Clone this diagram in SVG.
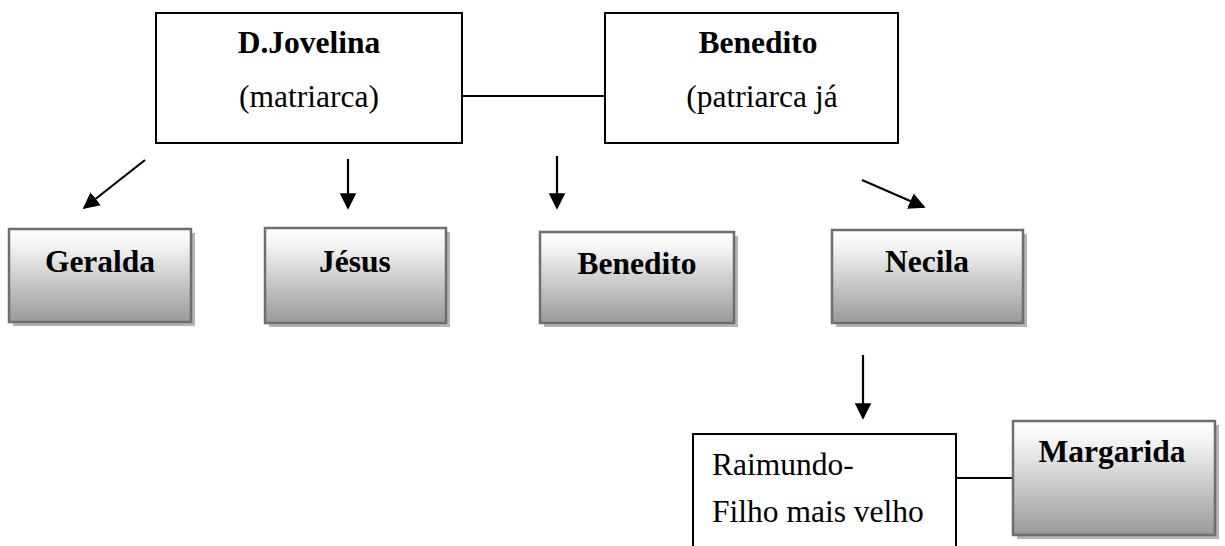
<svg xmlns="http://www.w3.org/2000/svg" width="1225" height="546" viewBox="0 0 1225 546">
<style>
.plain{fill:#fff;stroke:#000;stroke-width:2}
.shade{fill:url(#g);stroke:#6e6e6e;stroke-width:2.5}
.shadow{fill:#b4b4b4}
.b{font-family:"Liberation Serif",serif;font-weight:bold;font-size:31.5px;fill:#000;text-anchor:middle}
.r{font-family:"Liberation Serif",serif;font-size:31.5px;fill:#000;text-anchor:middle}
.rl{font-family:"Liberation Serif",serif;font-size:31.5px;fill:#000}
.ln{stroke:#000;stroke-width:2;fill:none}
.ar{stroke:#000;stroke-width:2.2;fill:none;marker-end:url(#ah)}
</style>
<defs>
<linearGradient id="g" x1="0" y1="0" x2="0" y2="1">
<stop offset="0" stop-color="#ffffff"/>
<stop offset="0.2" stop-color="#f2f2f2"/>
<stop offset="1" stop-color="#999999"/>
</linearGradient>
<marker id="ah" viewBox="0 0 10 10" refX="9" refY="5" markerWidth="7.5" markerHeight="7.5" markerUnits="strokeWidth" orient="auto">
<path d="M0,0 L10,5 L0,10 Z" fill="#000"/>
</marker>
</defs>
<rect width="1225" height="546" fill="#fff"/>
<g id="connectors">
<line class="ln" x1="462" y1="96" x2="605" y2="96"/>
<line class="ln" x1="956" y1="478" x2="1013" y2="478"/>
<line class="ar" x1="145" y1="160" x2="84" y2="208"/>
<line class="ar" x1="348" y1="159" x2="348" y2="208"/>
<line class="ar" x1="557" y1="156" x2="557" y2="208"/>
<line class="ar" x1="862" y1="180" x2="924" y2="207"/>
<line class="ar" x1="863" y1="355" x2="863" y2="418"/>
</g>
<g id="djovelina">
<rect class="plain" x="156" y="13" width="306" height="130"/>
<text class="b" x="309" y="53">D.Jovelina</text>
<text class="r" x="309" y="107">(matriarca)</text>
</g>
<g id="benedito-pai">
<rect class="plain" x="605" y="13" width="293" height="130"/>
<text class="b" x="758" y="53">Benedito</text>
<text class="r" x="762" y="107">(patriarca já</text>
</g>
<g id="geralda">
<rect class="shadow" x="13" y="233" width="182" height="93"/>
<rect class="shade" x="9" y="229" width="182" height="93"/>
<text class="b" x="100" y="272">Geralda</text>
</g>
<g id="jesus">
<rect class="shadow" x="269" y="232" width="181" height="95"/>
<rect class="shade" x="265" y="228" width="181" height="95"/>
<text class="b" x="355" y="272">Jésus</text>
</g>
<g id="benedito">
<rect class="shadow" x="544" y="236" width="194" height="91"/>
<rect class="shade" x="540" y="232" width="194" height="91"/>
<text class="b" x="637" y="274">Benedito</text>
</g>
<g id="necila">
<rect class="shadow" x="836" y="234" width="191" height="93"/>
<rect class="shade" x="832" y="230" width="191" height="93"/>
<text class="b" x="927" y="272">Necila</text>
</g>
<g id="raimundo">
<rect class="plain" x="693" y="434" width="263" height="130"/>
<text class="rl" x="712" y="475">Raimundo-</text>
<text class="rl" x="712" y="522">Filho mais velho</text>
</g>
<g id="margarida">
<rect class="shadow" x="1017" y="425" width="202" height="114"/>
<rect class="shade" x="1013" y="421" width="202" height="114"/>
<text class="b" x="1112" y="462">Margarida</text>
</g>
</svg>
